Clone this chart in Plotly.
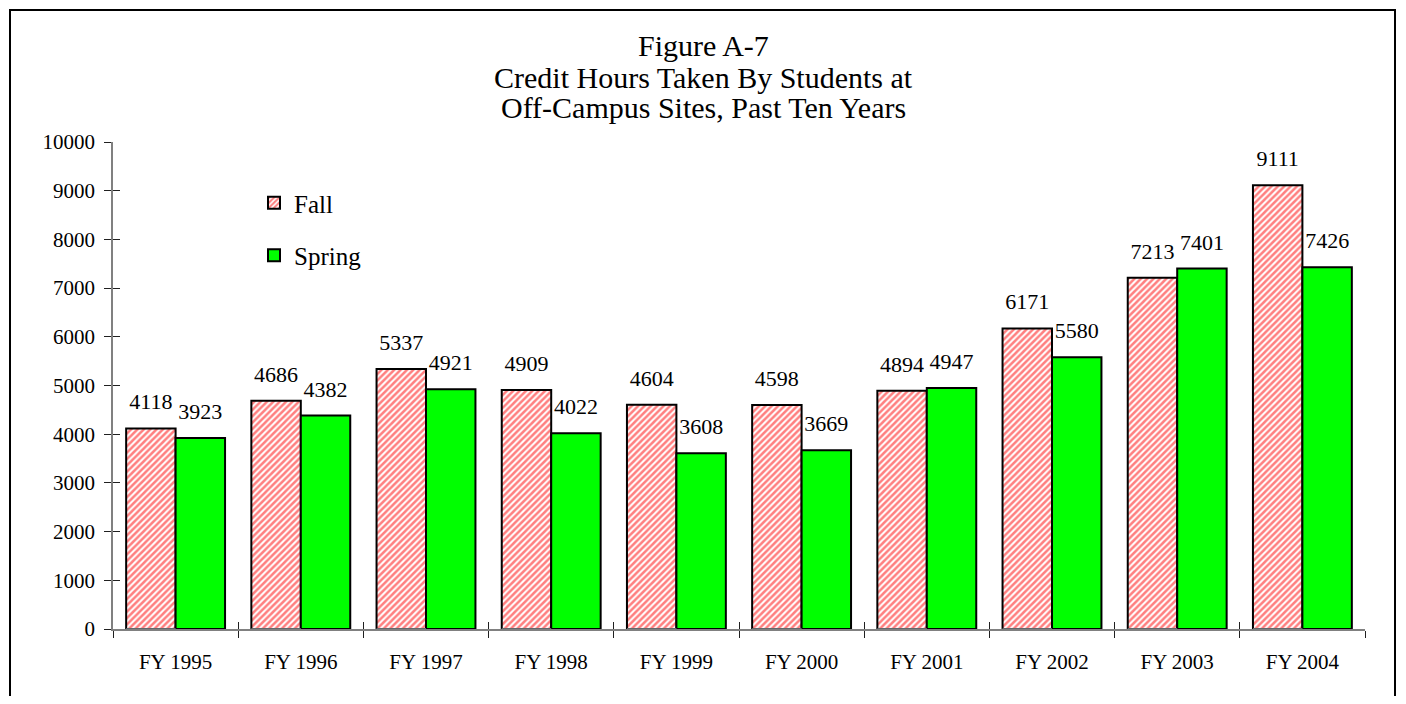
import plotly.graph_objects as go

# data
years = ["FY 1995", "FY 1996", "FY 1997", "FY 1998", "FY 1999",
         "FY 2000", "FY 2001", "FY 2002", "FY 2003", "FY 2004"]
fall = [4118, 4686, 5337, 4909, 4604, 4598, 4894, 6171, 7213, 9111]
spring = [3923, 4382, 4921, 4022, 3608, 3669, 4947, 5580, 7401, 7426]
y_ticks = [0, 1000, 2000, 3000, 4000, 5000, 6000, 7000, 8000, 9000, 10000]
title_lines = ["Figure A-7", "Credit Hours Taken By Students at",
               "Off-Campus Sites, Past Ten Years"]

FONT = "Liberation Serif"
# page body has an 8px margin, so the canvas is a bit smaller than the window
W, H = 1390, 688
L, R, T, B = 105, 33, 134, 67
PW, PH = W - L - R, H - T - B


def px_x(x):
    return (x - L) / PW


def px_y(y):
    return (T + PH - y) / PH


fig = go.Figure()
fig.add_trace(go.Bar(
    x=years, y=fall, name="Fall", offsetgroup="fall", legendgroup="a",
    marker=dict(color="white", line=dict(color="black", width=2),
                pattern=dict(shape="/", fgcolor="#FF0000", bgcolor="white",
                             size=4.5, solidity=0.55)),
))
fig.add_trace(go.Bar(
    x=years, y=spring, name="Spring", offsetgroup="spring", legendgroup="b",
    marker=dict(color="#00FF00", line=dict(color="black", width=2)),
))
# value labels, lifted a little above each bar
for vals, grp in [(fall, "fall"), (spring, "spring")]:
    fig.add_trace(go.Scatter(
        x=years, y=vals, offsetgroup=grp, mode="markers+text",
        text=[str(v) for v in vals], textposition="top center",
        marker=dict(size=20, opacity=0), showlegend=False, hoverinfo="skip",
        cliponaxis=False,
        textfont=dict(family=FONT, size=22, color="black"),
    ))
# invisible trace on overlay axes so the inside half of each tick is drawn
fig.add_trace(go.Bar(x=years, y=[0] * len(years), xaxis="x2", yaxis="y2",
                     showlegend=False, hoverinfo="skip",
                     marker=dict(color="rgba(0,0,0,0)")))

axis_common = dict(showgrid=False, zeroline=False, showline=True,
                   linecolor="#808080", linewidth=1.5,
                   tickcolor="#202020", tickwidth=1, ticklen=7)

annotations = []
for line, yc in zip(title_lines, [38, 69, 100]):
    annotations.append(dict(
        text=line, xref="paper", yref="paper", x=px_x(695), y=px_y(yc),
        xanchor="center", yanchor="middle", showarrow=False,
        font=dict(family=FONT, size=30, color="black")))

fig.update_layout(
    width=W, height=H,
    paper_bgcolor="white", plot_bgcolor="white",
    margin=dict(l=L, r=R, t=T, b=B),
    barmode="group", bargap=0.21, bargroupgap=0,
    scattermode="group",
    font=dict(family=FONT, color="black"),
    xaxis=dict(**axis_common, ticks="outside", tickson="boundaries",
               range=[-0.5, len(years) - 0.5],
               tickfont=dict(family=FONT, size=21, color="black"),
               ticklabelstandoff=13),
    yaxis=dict(**axis_common, ticks="outside", range=[0, 10000],
               tickvals=y_ticks, ticktext=[str(v) for v in y_ticks],
               tickfont=dict(family=FONT, size=21, color="black"),
               ticklabelstandoff=5),
    xaxis2=dict(**axis_common, overlaying="x", matches="x", ticks="inside",
                tickson="boundaries", showticklabels=False, side="bottom"),
    yaxis2=dict(**axis_common, overlaying="y", matches="y", ticks="inside",
                tickvals=y_ticks, showticklabels=False, side="left"),
    legend=dict(x=px_x(246), y=px_y(172), xanchor="left", yanchor="top",
                bgcolor="rgba(0,0,0,0)",
                font=dict(family=FONT, size=25, color="black"),
                tracegroupgap=17, itemwidth=30),
    showlegend=True,
    annotations=annotations,
    shapes=[dict(type="rect", xref="paper", yref="paper",
                 x0=px_x(2), x1=px_x(1387), y0=px_y(H + 20), y1=px_y(2),
                 line=dict(color="black", width=2), layer="below")],
)

fig.write_html("out.html")
